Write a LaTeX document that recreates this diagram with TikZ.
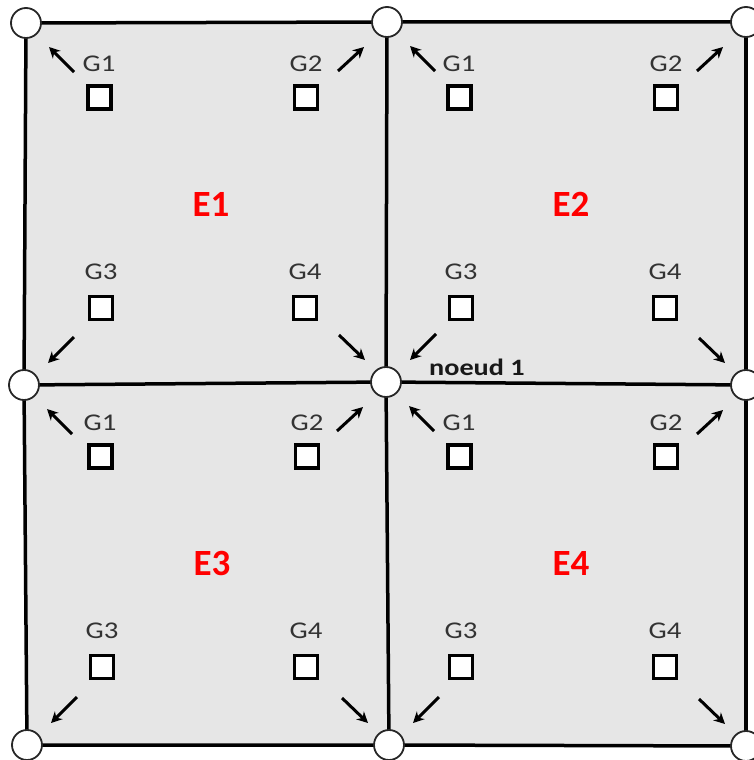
\documentclass[tikz,border=0pt]{standalone}
\usepackage{fontspec}
\setmainfont{Carlito}
\newfontfamily\widefont[FakeStretch=1.2]{Carlito}
\usetikzlibrary{arrows.meta,calc}
\definecolor{cellgray}{HTML}{E6E6E6}
\definecolor{txtgray}{HTML}{333333}
\begin{document}
\begin{tikzpicture}[x=1pt,y=-1pt,
 corner/.style={circle,draw=black!85,fill=white,line width=1.8pt,minimum size=30pt,inner sep=0pt},
 gsq/.style={draw=black,fill=white,line width=3.8pt,minimum size=23pt,inner sep=0pt},
 glab/.style={font=\widefont\fontsize{24}{26}\selectfont,text=txtgray,inner sep=0pt},
 elab/.style={font=\fontsize{37}{40}\selectfont\bfseries,text=red,inner sep=0pt},
 nlab/.style={font=\widefont\fontsize{23.5}{26}\selectfont\bfseries,text=black!90,inner sep=0pt,anchor=base west},
 arr/.style={line width=3pt,-{Stealth[length=11pt,width=11pt]}},
 gridline/.style={line width=3.5pt}]
\useasboundingbox (0,0) rectangle (753,760);
% corner points
\coordinate (p11) at (26,23);  \coordinate (p12) at (387,22);  \coordinate (p13) at (746,22);
\coordinate (p21) at (24,385); \coordinate (p22) at (386,382); \coordinate (p23) at (746,385);
\coordinate (p31) at (27,745); \coordinate (p32) at (389,745); \coordinate (p33) at (746,746);
% cells
\fill[cellgray] (p11) -- (p12) -- (p22) -- (p21) -- cycle;
\fill[cellgray] (p12) -- (p13) -- (p23) -- (p22) -- cycle;
\fill[cellgray] (p21) -- (p22) -- (p32) -- (p31) -- cycle;
\fill[cellgray] (p22) -- (p23) -- (p33) -- (p32) -- cycle;
% grid lines
\draw[gridline] (p11) -- (p12) -- (p13);
\draw[gridline] (p21) -- (p22) -- (p23);
\draw[gridline] (p31) -- (p32) -- (p33);
\draw[gridline] (p11) -- (p21) -- (p31);
\draw[gridline] (p12) -- (p22) -- (p32);
\draw[gridline] (p13) -- (p23) -- (p33);
% corner nodes
\foreach \r in {1,2,3}{\foreach \c in {1,2,3}{\node[corner] (n\r\c) at (p\r\c) {};}}
% element contents
\foreach \e/\dx/\dy in {1/0/0, 2/360/0, 3/1/359, 4/360/359}{
  \begin{scope}[shift={(\dx,\dy)}]
    \node[gsq] (E\e g1) at (99.5,97.5) {};
    \node[gsq] (E\e g2) at (306,97.5) {};
    \node[gsq] (E\e g3) at (101,308) {};
    \node[gsq] (E\e g4) at (305,308) {};
    \node[glab] (E\e l1) at (99,64) {G1};
    \node[glab] (E\e l2) at (306,64) {G2};
    \node[glab] (E\e l3) at (101,272) {G3};
    \node[glab] (E\e l4) at (305,272) {G4};
    \node[elab] (E\e) at (211,204) {E\e};
  \end{scope}
}
% arrows toward the corner nodes
\foreach \a/\b/\c/\d in {11/12/21/22, 12/13/22/23, 21/22/31/32, 22/23/32/33}{
  \draw[arr] ($(p\a)+(48,49)$) -- ($(p\a)+(23,24)$);
  \draw[arr] ($(p\b)+(-49,49)$) -- ($(p\b)+(-23,25)$);
  \draw[arr] ($(p\c)+(50,-48)$) -- ($(p\c)+(24,-22)$);
  \draw[arr] ($(p\d)+(-47,-47)$) -- ($(p\d)+(-21,-22)$);
}
\node[nlab] (nl) at (429,375) {noeud 1};
\end{tikzpicture}
\end{document}
